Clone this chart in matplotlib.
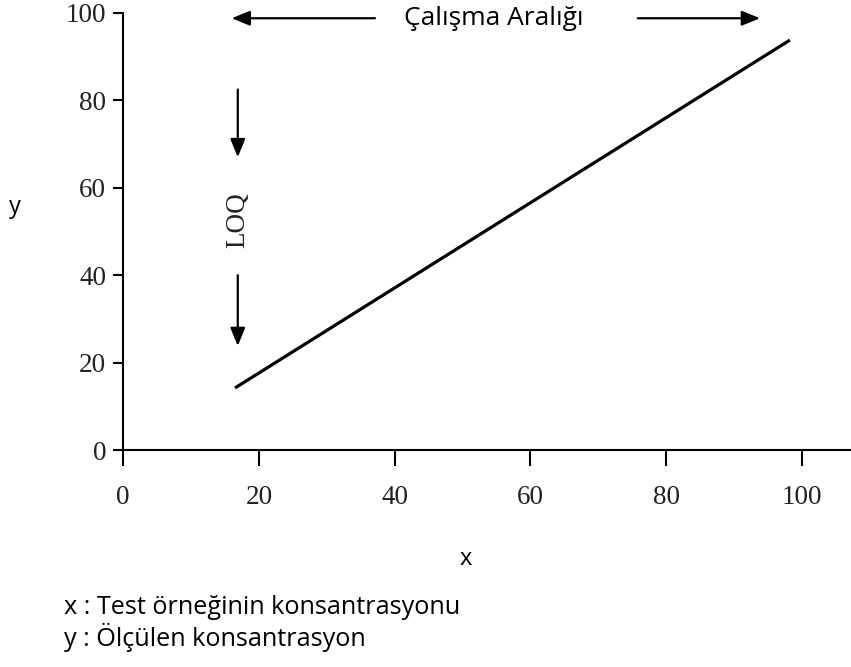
import matplotlib
matplotlib.use('Agg')
import matplotlib.pyplot as plt

# Doğrusal kalibrasyon çizgisinin uç noktaları
x_line = [16.5, 98.2]
y_line = [14.2, 93.8]

x_ticks = [0, 20, 40, 60, 80, 100]
y_ticks = [0, 20, 40, 60, 80, 100]

serif = 'Liberation Serif'
sans = 'Open Sans'

fig = plt.figure(figsize=(8.51, 6.67), dpi=100)
ax = fig.add_axes([123 / 851, 217 / 667, 728 / 851, 437 / 667])

ax.plot(x_line, y_line, color='black', lw=2.3, solid_capstyle='butt')

ax.set_xlim(0, 107.2)
ax.set_ylim(0, 100)
ax.set_xticks(x_ticks)
ax.set_yticks(y_ticks)
ax.spines['top'].set_visible(False)
ax.spines['right'].set_visible(False)
for s in ['left', 'bottom']:
    ax.spines[s].set_linewidth(1.5)
ax.tick_params(axis='x', direction='out', length=11.5, width=1.5, pad=14, labelsize=19.5)
ax.tick_params(axis='y', direction='out', length=7, width=1.5, pad=5, labelsize=19.5)
for lab in ax.get_xticklabels() + ax.get_yticklabels():
    lab.set_fontfamily(serif)
    lab.set_color('#222222')

# Çalışma aralığı okları
arrow = dict(arrowstyle='-|>,head_length=1.1,head_width=0.45', color='black', lw=1.6,
             shrinkA=0, shrinkB=0)
ax.annotate('', xy=(16.0, 98.8), xytext=(37.1, 98.8), arrowprops=arrow, annotation_clip=False)
ax.annotate('', xy=(93.8, 98.8), xytext=(75.8, 98.8), arrowprops=arrow, annotation_clip=False)
ax.text(54.6, 98.8, 'Çalışma Aralığı', family=sans, fontsize=19, ha='center', va='center')

# LOQ okları
ax.annotate('', xy=(16.9, 67.0), xytext=(16.9, 82.5), arrowprops=arrow)
ax.annotate('', xy=(16.9, 23.8), xytext=(16.9, 40.0), arrowprops=arrow)
ax.text(16.9, 52.5, 'LOQ', family=serif, fontsize=19.5, rotation=90, ha='center', va='center',
        color='#222222')

fig.text(15 / 851, 1 - 207 / 667, 'y', family=sans, fontsize=17, ha='center', va='center')
fig.text(466 / 851, 1 - 559 / 667, 'x', family=sans, fontsize=17, ha='center', va='center')
fig.text(64 / 851, 1 - 607 / 667, 'x : Test örneğinin konsantrasyonu', family=sans,
         fontsize=18.2, ha='left', va='center')
fig.text(64 / 851, 1 - 637 / 667, 'y : Ölçülen konsantrasyon', family=sans,
         fontsize=18.2, ha='left', va='center')

fig.savefig('out.png', dpi=100)
